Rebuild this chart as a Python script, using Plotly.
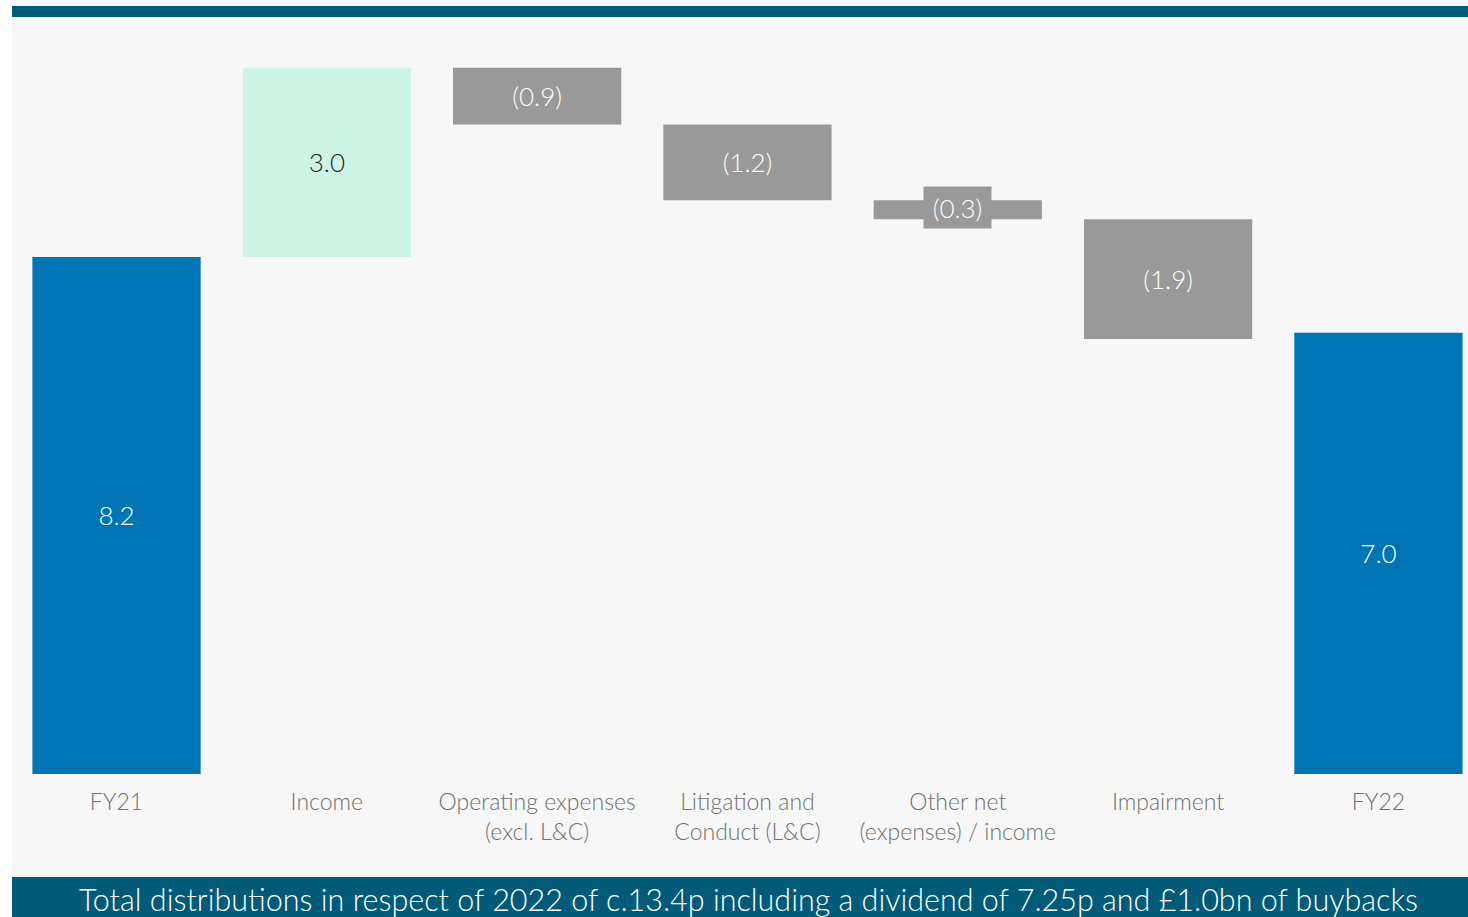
import plotly.graph_objects as go

# Waterfall: FY21 to FY22 (£bn)
categories = ["FY21", "Income", "Operating expenses<br>(excl. L&C)",
              "Litigation and<br>Conduct (L&C)", "Other net<br>(expenses) / income",
              "Impairment", "FY22"]
values = [8.2, 3.0, -0.9, -1.2, -0.3, -1.9, 7.0]
measures = ["absolute", "relative", "relative", "relative", "relative", "relative", "absolute"]
labels = ["8.2", "3.0", "(0.9)", "(1.2)", "(0.3)", "(1.9)", "7.0"]
footer = "Total distributions in respect of 2022 of c.13.4p including a dividend of 7.25p and £1.0bn of buybacks"

BLUE = "#0075B6"
MINT = "#CDF5E6"
GREY = "#999999"
TEAL = "#005A78"
BG = "#F7F7F7"
FONT = "Lato"

# the "Other" bar is too thin for its label; it gets a boxed annotation instead
bar_text = [t if i != 4 else "" for i, t in enumerate(labels)]
text_colors = ["white", "#1E1E1E", "white", "white", "white", "white", "white"]

fig = go.Figure(go.Waterfall(
    x=list(range(len(categories))),
    y=values,
    measure=measures,
    text=bar_text,
    textposition="inside",
    insidetextanchor="middle",
    textfont=dict(size=26, color=text_colors, family=FONT, weight=300),
    width=0.8,
    connector=dict(visible=False),
    totals=dict(marker=dict(color=BLUE)),
    increasing=dict(marker=dict(color=MINT)),
    decreasing=dict(marker=dict(color=GREY)),
    hoverinfo="skip",
))

# running level at the middle of the "Other" bar
level = sum(values[:4])
other_mid = level + values[4] / 2
fig.add_annotation(x=4, y=other_mid, xref="x", yref="y", text=labels[4],
                   showarrow=False, bgcolor=GREY, width=65, height=39, yshift=2,
                   font=dict(size=26, color="white", family=FONT, weight=300))

H_PLOT = 757.0
def py(px):
    # pixel row -> paper y
    return (774 - px) / H_PLOT

shapes = [
    dict(type="rect", xref="paper", yref="paper", x0=0, x1=1, y0=py(877), y1=1,
         fillcolor=BG, line_width=0, layer="below"),
    dict(type="rect", xref="paper", yref="paper", x0=0, x1=1, y0=1, y1=py(6),
         fillcolor=TEAL, line_width=0, layer="above"),
    dict(type="rect", xref="paper", yref="paper", x0=0, x1=1, y0=py(920), y1=py(877),
         fillcolor=TEAL, line_width=0, layer="above"),
]
fig.add_annotation(x=0.506, y=py(899), xref="paper", yref="paper", text=footer,
                   showarrow=False, yanchor="middle",
                   font=dict(size=30.5, color="white", family=FONT))

fig.update_layout(
    width=1468, height=917,
    margin=dict(l=12, r=0, t=17, b=143),
    paper_bgcolor="white", plot_bgcolor=BG,
    shapes=shapes,
    showlegend=False,
    font=dict(family=FONT, weight=300),
    xaxis=dict(range=[-0.497, 6.426], tickmode="array",
               tickvals=list(range(len(categories))), ticktext=categories,
               showgrid=False, zeroline=False, showline=False, ticks="",
               tickfont=dict(size=23, color="#707070", family=FONT, weight=300),
               ticklabelstandoff=12),
    yaxis=dict(range=[0, 12.006], visible=False, showgrid=False, zeroline=False),
)

fig.write_html("out.html")
